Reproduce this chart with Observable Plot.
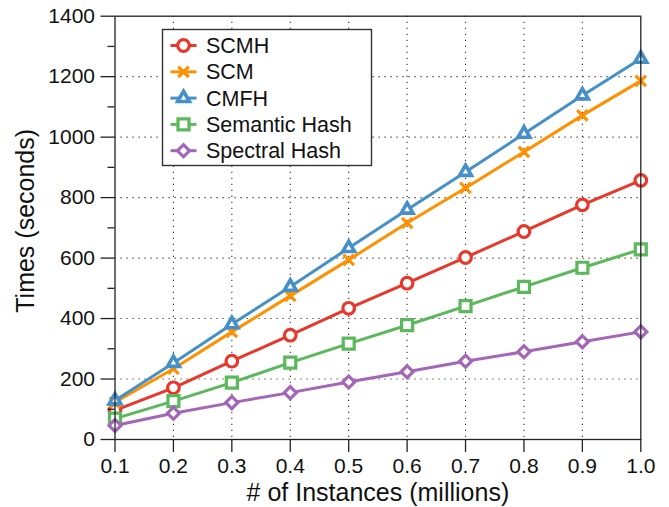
<!DOCTYPE html>
<html>
<head>
<meta charset="utf-8">
<script src="https://cdn.jsdelivr.net/npm/d3@7"></script>
<script src="https://cdn.jsdelivr.net/npm/@observablehq/plot@0.6"></script>
<style>
  html, body { margin: 0; padding: 0; background: #fff; }
  #wrap { position: relative; width: 669px; height: 507px; font-family: "Liberation Sans", Arial, Helvetica, sans-serif; }
  #legend { position: absolute; left: 0; top: 0; pointer-events: none; }
</style>
</head>
<body>
<div id="wrap"></div>
<script>
// ---- data ----
const instances = [0.1, 0.2, 0.3, 0.4, 0.5, 0.6, 0.7, 0.8, 0.9, 1.0];
const seriesNames = ["SCMH", "SCM", "CMFH", "Semantic Hash", "Spectral Hash"];
const scmh     = [96, 171, 259, 345, 434, 517, 602, 688, 776, 857];
const scm      = [123, 234, 356, 475, 594, 716, 832, 951, 1072, 1186];
const cmfh     = [129, 253, 381, 505, 633, 760, 885, 1011, 1138, 1259];
const semantic = [69, 127, 188, 254, 317, 378, 441, 505, 568, 629];
const spectral = [46, 87, 122, 155, 190, 224, 259, 290, 323, 356];
const xTicks = [0.1, 0.2, 0.3, 0.4, 0.5, 0.6, 0.7, 0.8, 0.9, 1.0];
const yTicks = [0, 200, 400, 600, 800, 1000, 1200, 1400];
const yMinorTicks = [100, 300, 500, 700, 900, 1100, 1300];
const xGrid = [0.2, 0.3, 0.4, 0.5, 0.6, 0.7, 0.8, 0.9];
const yGrid = [200, 400, 600, 800, 1000, 1200];

// ---- styles ----
const colors = ["#e8372b", "#ff9100", "#4590c8", "#5cb85c", "#a466b6"];
const symbols = ["circle", "times", "triangle", "square", "square"];
const rotations = [0, 0, 0, 0, 45];
const radii = [5.8, 4.8, 4.4, 6.2, 4.8];
const fills = ["white", "none", "white", "white", "white"];
const strokeWidths = [3.2, 3.2, 3.6, 3.2, 3.2];

const values = [scmh, scm, cmfh, semantic, spectral];
const rows = [];
seriesNames.forEach((name, i) => {
  instances.forEach((x, j) => rows.push({series: name, idx: i, x, y: values[i][j]}));
});

const fontFamily = '"Liberation Sans", Arial, Helvetica, sans-serif';
const marks = [
  Plot.ruleY(yGrid, {stroke: "#333", strokeWidth: 1.1, strokeDasharray: "1.2,4.8"}),
  Plot.ruleX(xGrid, {stroke: "#333", strokeWidth: 1.1, strokeDasharray: "1.2,4.8"})
];
seriesNames.forEach((name, i) => {
  const data = rows.filter(d => d.idx === i);
  marks.push(Plot.line(data, {x: "x", y: "y", stroke: colors[i], strokeWidth: 3}));
  marks.push(Plot.dot(data, {x: "x", y: "y", symbol: symbols[i], r: radii[i], stroke: colors[i],
    fill: fills[i], strokeWidth: strokeWidths[i], rotate: rotations[i]}));
});
marks.push(
  Plot.frame({stroke: "#222", strokeWidth: 1.3}),
  Plot.axisX(xTicks, {tickSize: 13, tickPadding: 6, tickFormat: d3.format(".1f"), fontSize: 21, label: null, stroke: "#222", strokeWidth: 1.3}),
  Plot.axisY(yTicks, {tickSize: 14, tickPadding: 6, tickFormat: d => String(d), fontSize: 21, label: null, stroke: "#222", strokeWidth: 1.3}),
  Plot.axisY(yMinorTicks, {tickSize: 7, text: null, label: null, stroke: "#222", strokeWidth: 1.3}),
  Plot.text(["# of Instances (millions)"], {frameAnchor: "bottom", dy: 53, lineAnchor: "middle", textAnchor: "middle", fontSize: 25, fill: "#111"}),
  Plot.text(["Times (seconds)"], {frameAnchor: "left", dx: -89, dy: -7, rotate: -90, textAnchor: "middle", lineAnchor: "middle", fontSize: 25, fill: "#111"})
);

const chart = Plot.plot({
  width: 669,
  height: 507,
  marginLeft: 114.5,
  marginRight: 28.7,
  marginTop: 15.7,
  marginBottom: 68,
  style: {fontFamily, color: "#111", background: "white", overflow: "visible"},
  x: {domain: [0.1, 1.0]},
  y: {domain: [0, 1400]},
  marks
});
const wrap = document.getElementById("wrap");
wrap.appendChild(chart);

// ---- legend overlay ----
const symMap = {circle: d3.symbolCircle, times: d3.symbolTimes, triangle: d3.symbolTriangle, square: d3.symbolSquare};
const leg = d3.select(wrap).append("svg").attr("id", "legend").attr("width", 669).attr("height", 507);
const box = {x: 162.5, y: 29.5, w: 209, h: 136};
leg.append("rect").attr("x", box.x).attr("y", box.y).attr("width", box.w).attr("height", box.h)
  .attr("fill", "white").attr("stroke", "#333").attr("stroke-width", 1.4);
seriesNames.forEach((name, i) => {
  const cy = 45.5 + i * 26.3;
  const g = leg.append("g");
  g.append("line").attr("x1", 170.5).attr("x2", 196.5).attr("y1", cy).attr("y2", cy)
    .attr("stroke", colors[i]).attr("stroke-width", 3);
  g.append("path").attr("d", d3.symbol(symMap[symbols[i]], radii[i] * radii[i] * Math.PI)())
    .attr("transform", `translate(183.5,${cy}) rotate(${rotations[i]})`)
    .attr("fill", fills[i]).attr("stroke", colors[i]).attr("stroke-width", strokeWidths[i]);
  g.append("text").attr("x", 206).attr("y", cy + 7.5).text(name)
    .attr("font-family", fontFamily).attr("font-size", 21.5).attr("fill", "#111");
});
</script>
</body>
</html>
